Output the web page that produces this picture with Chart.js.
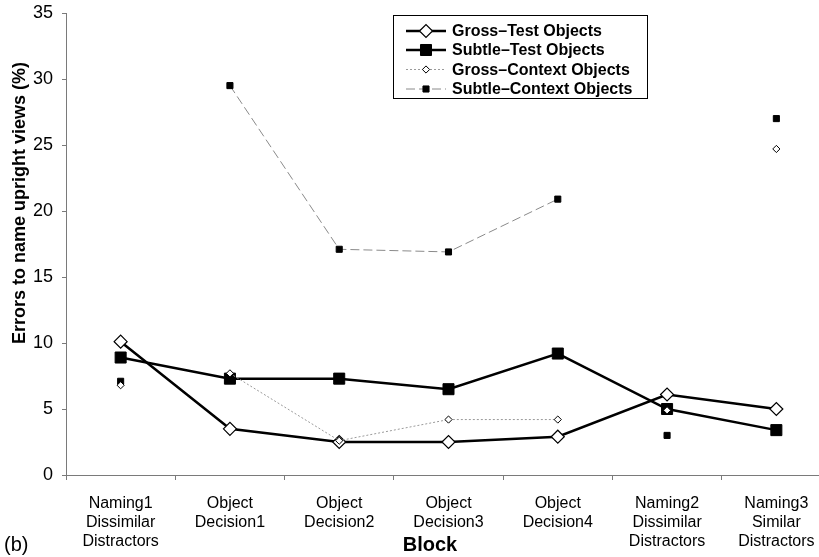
<!DOCTYPE html>
<html>
<head>
<meta charset="utf-8">
<script src="https://cdn.jsdelivr.net/npm/chart.js@4/dist/chart.umd.min.js"></script>
<style>
  html, body { margin: 0; padding: 0; background: #fff; }
  #wrap { width: 819px; height: 557px; overflow: hidden; position: relative; }
  canvas { display: block; }
</style>
</head>
<body>
<div id="wrap"><canvas id="c" width="845" height="557"></canvas></div>
<script>
// Experimental blocks (x categories)
const blocks = [
  ["Naming1", "Dissimilar", "Distractors"],
  ["Object", "Decision1"],
  ["Object", "Decision2"],
  ["Object", "Decision3"],
  ["Object", "Decision4"],
  ["Naming2", "Dissimilar", "Distractors"],
  ["Naming3", "Similar", "Distractors"]
];

// Percentage of errors naming upright views
const grossTest     = [10.1, 3.5, 2.5, 2.5, 2.9, 6.1, 5.0];
const subtleTest    = [8.9, 7.3, 7.3, 6.5, 9.2, 5.0, 3.4];
const grossContext  = [6.8, 7.7, 2.6, 4.2, 4.2, 4.9, 24.7];
const subtleContext = [7.1, 29.5, 17.1, 16.9, 20.9, 3.0, 27.0];

const seriesNames = [
  "Gross\u2013Test Objects",
  "Subtle\u2013Test Objects",
  "Gross\u2013Context Objects",
  "Subtle\u2013Context Objects"
];

const yTicks = [0, 5, 10, 15, 20, 25, 30, 35];

const FONT = '"Liberation Sans", Arial, Helvetica, sans-serif';
const AXIS_GREY = '#7a7a7a';

// Context series are only joined across the four object-decision blocks
const decisionOnly = color => ctx =>
  (ctx.p0DataIndex >= 1 && ctx.p1DataIndex <= 4) ? color : 'rgba(0,0,0,0)';

const datasets = [
  {
    label: seriesNames[0], data: grossTest, order: 2,
    borderColor: '#000', borderWidth: 2.5,
    pointStyle: 'rectRot', pointRadius: 6.5, pointBorderWidth: 1.2,
    pointBackgroundColor: '#fff', pointBorderColor: '#000'
  },
  {
    label: seriesNames[1], data: subtleTest, order: 1,
    borderColor: '#000', borderWidth: 2.5,
    pointStyle: 'rect', pointRadius: 7.8, pointBorderWidth: 1,
    pointBackgroundColor: '#000', pointBorderColor: '#000'
  },
  {
    label: seriesNames[2], data: grossContext, order: 0,
    borderColor: '#9a9a9a', borderWidth: 1, borderDash: [2, 2],
    segment: { borderColor: decisionOnly('#9a9a9a') },
    pointStyle: 'rectRot', pointRadius: 3.6, pointBorderWidth: 1,
    pointBackgroundColor: '#fff', pointBorderColor: '#000'
  },
  {
    label: seriesNames[3], data: subtleContext, order: 0,
    borderColor: '#8a8a8a', borderWidth: 1, borderDash: [9, 4],
    segment: { borderColor: decisionOnly('#8a8a8a') },
    pointStyle: 'rect', pointRadius: 4.3, pointBorderWidth: 1,
    pointBackgroundColor: '#000', pointBorderColor: '#000'
  }
];

// Legend box, axis titles and panel tag
const annotations = {
  id: 'annotations',
  afterDraw(chart) {
    const ctx = chart.ctx;
    ctx.save();

    // legend frame
    ctx.strokeStyle = '#000';
    ctx.lineWidth = 1;
    ctx.setLineDash([]);
    ctx.strokeRect(393.5, 15.5, 254, 83);

    const rows = [31, 50, 69.5, 89];
    const x0 = 406, x1 = 446, xm = 426;
    chart.data.datasets.forEach((ds, i) => {
      const y = rows[i];
      ctx.save();
      ctx.strokeStyle = i < 2 ? '#000' : ds.borderColor;
      ctx.lineWidth = ds.borderWidth;
      ctx.setLineDash(ds.borderDash || []);
      ctx.beginPath();
      ctx.moveTo(x0, y);
      ctx.lineTo(x1, y);
      ctx.stroke();
      ctx.restore();
      ctx.save();
      ctx.lineWidth = ds.pointBorderWidth;
      ctx.strokeStyle = ds.pointBorderColor;
      ctx.fillStyle = ds.pointBackgroundColor;
      Chart.helpers.drawPoint(ctx, {
        pointStyle: ds.pointStyle,
        radius: ds.pointRadius,
        borderWidth: ds.pointBorderWidth,
        rotation: 0
      }, xm, y);
      ctx.restore();

      ctx.fillStyle = '#000';
      ctx.font = 'bold 16px ' + FONT;
      ctx.textAlign = 'left';
      ctx.textBaseline = 'middle';
      ctx.fillText(ds.label, 452, y + 1);
    });

    // y-axis title
    ctx.save();
    ctx.translate(20, 203);
    ctx.rotate(-Math.PI / 2);
    ctx.font = 'bold 18px ' + FONT;
    ctx.fillStyle = '#000';
    ctx.textAlign = 'center';
    ctx.textBaseline = 'middle';
    ctx.fillText('Errors to name upright views (%)', 0, 0);
    ctx.restore();

    // x-axis title
    ctx.font = 'bold 20px ' + FONT;
    ctx.fillStyle = '#000';
    ctx.textAlign = 'center';
    ctx.textBaseline = 'middle';
    ctx.fillText('Block', 430, 545);

    // panel tag
    ctx.font = '20px ' + FONT;
    ctx.textAlign = 'left';
    ctx.fillText('(b)', 4, 545);

    ctx.restore();
  }
};

new Chart(document.getElementById('c'), {
  type: 'line',
  data: { labels: blocks, datasets },
  plugins: [annotations],
  options: {
    responsive: false,
    animation: false,
    layout: { padding: { left: 0, right: 14, top: 13, bottom: 0 } },
    plugins: { legend: { display: false }, tooltip: { enabled: false } },
    scales: {
      x: {
        offset: true,
        afterFit: s => { s.height = 82; s.paddingLeft = 0; s.paddingRight = 0; },
        grid: {
          offset: true, drawOnChartArea: false, drawTicks: true,
          tickLength: 5, tickColor: AXIS_GREY
        },
        border: { display: true, color: AXIS_GREY, width: 1 },
        ticks: {
          autoSkip: false, maxRotation: 0, minRotation: 0,
          padding: 14, color: '#000',
          font: { family: FONT, size: 16, lineHeight: 1.2 }
        }
      },
      y: {
        min: 0, max: 35,
        afterFit: s => { s.width = 66; s.paddingTop = 0; s.paddingBottom = 0; },
        afterBuildTicks: s => { s.ticks = yTicks.map(v => ({ value: v })); },
        grid: {
          drawOnChartArea: false, drawTicks: true,
          tickLength: 4, tickColor: AXIS_GREY
        },
        border: { display: true, color: AXIS_GREY, width: 1 },
        ticks: {
          padding: 9, color: '#000',
          font: { family: FONT, size: 18 }
        }
      }
    }
  }
});
</script>
</body>
</html>
